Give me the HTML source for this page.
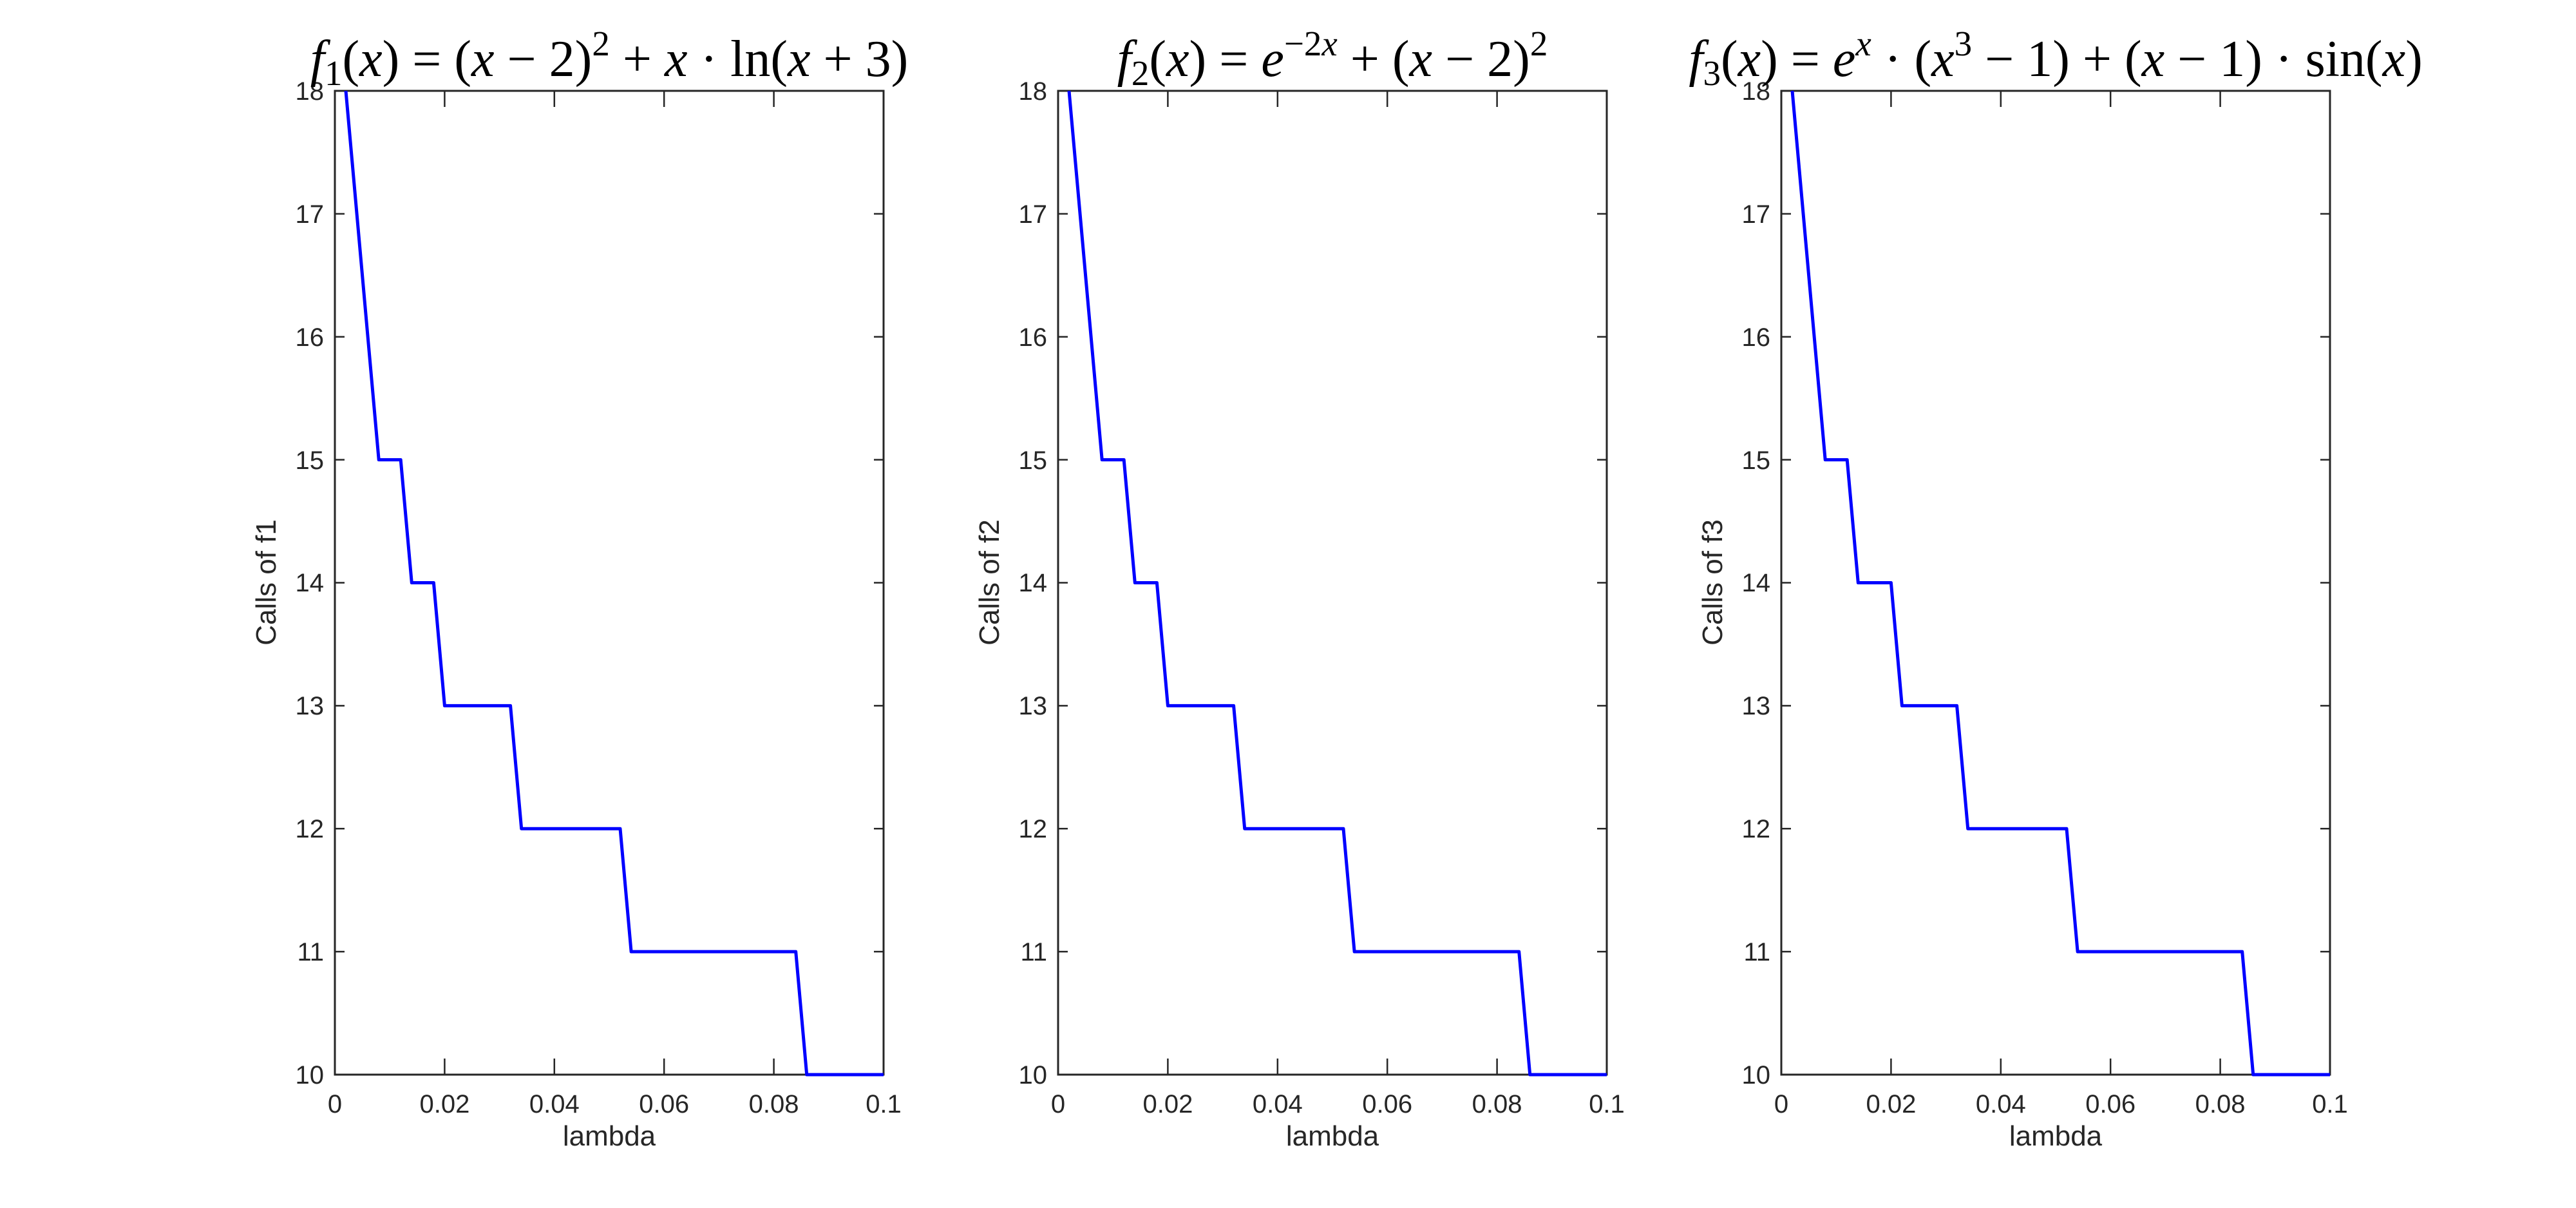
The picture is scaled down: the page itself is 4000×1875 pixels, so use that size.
<!DOCTYPE html>
<html><head><meta charset="utf-8"><style>
html,body{margin:0;padding:0;background:#fff;}
svg{display:block;}
.t{font-family:"Liberation Sans",sans-serif;font-size:40px;fill:#262626;}
.ti{font-family:"Liberation Serif",serif;font-size:80px;fill:#000;}
.it{font-style:italic;}
</style></head><body>
<svg width="4000" height="1875" viewBox="0 0 4000 1875" xmlns="http://www.w3.org/2000/svg">
<rect width="4000" height="1875" fill="#fff"/>
<defs>
<g id="ax">
  <rect x="0" y="141" width="852" height="1527" fill="none" stroke="#262626" stroke-width="3"/>
  <g stroke="#262626" stroke-width="2.5">
    <line x1="170.4" y1="1668" x2="170.4" y2="1643"/><line x1="340.8" y1="1668" x2="340.8" y2="1643"/>
    <line x1="511.2" y1="1668" x2="511.2" y2="1643"/><line x1="681.6" y1="1668" x2="681.6" y2="1643"/>
    <line x1="170.4" y1="141" x2="170.4" y2="166"/><line x1="340.8" y1="141" x2="340.8" y2="166"/>
    <line x1="511.2" y1="141" x2="511.2" y2="166"/><line x1="681.6" y1="141" x2="681.6" y2="166"/>
    <line x1="0" y1="1477.1" x2="15" y2="1477.1"/><line x1="852" y1="1477.1" x2="837" y2="1477.1"/>
    <line x1="0" y1="1286.2" x2="15" y2="1286.2"/><line x1="852" y1="1286.2" x2="837" y2="1286.2"/>
    <line x1="0" y1="1095.4" x2="15" y2="1095.4"/><line x1="852" y1="1095.4" x2="837" y2="1095.4"/>
    <line x1="0" y1="904.5" x2="15" y2="904.5"/><line x1="852" y1="904.5" x2="837" y2="904.5"/>
    <line x1="0" y1="713.6" x2="15" y2="713.6"/><line x1="852" y1="713.6" x2="837" y2="713.6"/>
    <line x1="0" y1="522.8" x2="15" y2="522.8"/><line x1="852" y1="522.8" x2="837" y2="522.8"/>
    <line x1="0" y1="331.9" x2="15" y2="331.9"/><line x1="852" y1="331.9" x2="837" y2="331.9"/>
  </g>
  <g class="t" text-anchor="end">
    <text x="-17" y="1682">10</text><text x="-17" y="1491">11</text><text x="-17" y="1300">12</text>
    <text x="-17" y="1109">13</text><text x="-17" y="918">14</text><text x="-17" y="728">15</text>
    <text x="-17" y="537">16</text><text x="-17" y="346">17</text><text x="-17" y="155">18</text>
  </g>
  <g class="t" text-anchor="middle">
    <text x="0" y="1727">0</text><text x="170.4" y="1727">0.02</text><text x="340.8" y="1727">0.04</text>
    <text x="511.2" y="1727">0.06</text><text x="681.6" y="1727">0.08</text><text x="852" y="1727">0.1</text>
    <text x="426" y="1778" style="font-size:44px">lambda</text>
  </g>
</g>
</defs>

<g transform="translate(520,0)">
  <use href="#ax"/>
  <text class="t" style="font-size:44px" text-anchor="middle" transform="translate(-92,904) rotate(-90)">Calls of f1</text>
  <polyline fill="none" stroke="#0000ff" stroke-width="5" stroke-linejoin="round" points="17,141 68.2,713.6 102.2,713.6 119.3,904.5 153.4,904.5 170.4,1095.4 272.6,1095.4 289.7,1286.2 443,1286.2 460.1,1477.1 715.7,1477.1 732.7,1668 852,1668"/>
  <text class="ti" x="426" y="118" text-anchor="middle"><tspan class="it">f</tspan><tspan font-size="55" dy="14">1</tspan><tspan dy="-14">(</tspan><tspan class="it">x</tspan>) = (<tspan class="it">x</tspan> − 2)<tspan font-size="55" dy="-32">2</tspan><tspan dy="32"> + </tspan><tspan class="it">x</tspan> · ln(<tspan class="it">x</tspan> + 3)</text>
</g>

<g transform="translate(1643,0)">
  <use href="#ax"/>
  <text class="t" style="font-size:44px" text-anchor="middle" transform="translate(-92,904) rotate(-90)">Calls of f2</text>
  <polyline fill="none" stroke="#0000ff" stroke-width="5" stroke-linejoin="round" points="17,141 68.2,713.6 102.2,713.6 119.3,904.5 153.4,904.5 170.4,1095.4 272.6,1095.4 289.7,1286.2 443,1286.2 460.1,1477.1 715.7,1477.1 732.7,1668 852,1668"/>
  <text class="ti" x="426" y="118" text-anchor="middle"><tspan class="it">f</tspan><tspan font-size="55" dy="14">2</tspan><tspan dy="-14">(</tspan><tspan class="it">x</tspan>) = <tspan class="it">e</tspan><tspan font-size="55" dy="-32">−2<tspan class="it">x</tspan></tspan><tspan dy="32"> + (</tspan><tspan class="it">x</tspan> − 2)<tspan font-size="55" dy="-32">2</tspan></text>
</g>

<g transform="translate(2766,0)">
  <use href="#ax"/>
  <text class="t" style="font-size:44px" text-anchor="middle" transform="translate(-92,904) rotate(-90)">Calls of f3</text>
  <polyline fill="none" stroke="#0000ff" stroke-width="5" stroke-linejoin="round" points="17,141 68.2,713.6 102.2,713.6 119.3,904.5 170.4,904.5 187.4,1095.4 272.6,1095.4 289.7,1286.2 443,1286.2 460.1,1477.1 715.7,1477.1 732.7,1668 852,1668"/>
  <text class="ti" x="426" y="118" text-anchor="middle"><tspan class="it">f</tspan><tspan font-size="55" dy="14">3</tspan><tspan dy="-14">(</tspan><tspan class="it">x</tspan>) = <tspan class="it">e</tspan><tspan font-size="55" dy="-32" class="it">x</tspan><tspan dy="32"> · (</tspan><tspan class="it">x</tspan><tspan font-size="55" dy="-32">3</tspan><tspan dy="32"> − 1) + (</tspan><tspan class="it">x</tspan> − 1) · sin(<tspan class="it">x</tspan>)</text>
</g>
</svg>
</body></html>
